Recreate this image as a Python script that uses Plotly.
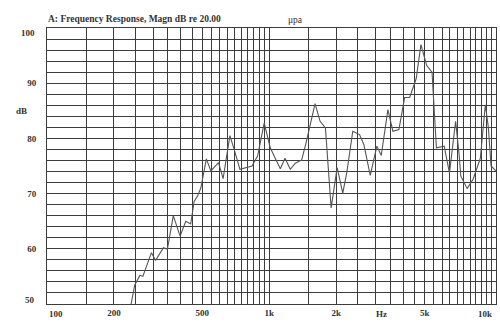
import plotly.graph_objects as go
import math

# Measured response (Hz, dB re 20 µPa)
freq_hz = [238, 248, 262, 270, 295, 308, 334, 348, 370, 397, 421, 443, 459, 475, 492,
           521, 546, 591, 620, 665, 695, 738, 836, 886, 949, 1010, 1121, 1177, 1243, 1310,
           1399, 1464, 1607, 1693, 1789, 1898, 2020, 2141, 2232, 2375, 2547, 2664, 2846,
           3048, 3190, 3417, 3599, 3830, 4064, 4280, 4579, 4813, 5108, 5397, 5648, 6125,
           6466, 6891, 7145, 7271, 7762, 8260, 8902, 9376, 9674, 9947, 10457]
magn_db = [49.6, 53.4, 55.2, 55.0, 59.3, 57.9, 60.2, 59.9, 66.0, 62.3, 65.0, 64.5, 68.6, 69.5, 71.0,
           76.3, 74.1, 75.6, 72.7, 80.5, 78.0, 74.4, 75.0, 76.8, 82.8, 78.3, 74.5, 76.4, 74.4, 75.5,
           76.1, 79.2, 86.3, 83.1, 81.9, 67.4, 74.7, 70.1, 73.8, 81.3, 80.7, 78.9, 73.3,
           78.6, 76.9, 85.2, 81.3, 81.6, 87.4, 87.4, 90.8, 97.0, 93.2, 92.0, 78.3, 78.6,
           73.7, 83.1, 77.1, 73.2, 70.9, 72.6, 76.4, 86.1, 82.0, 75.0, 74.1]

# Grid / tick definitions
x_grid = list(range(100, 1000, 50)) + list(range(1000, 10001, 500))
x_labels = {200: "200", 500: "500", 1000: "1k", 2000: "2k", 5000: "5k"}
y_grid = list(range(50, 101, 2))
y_labels = {60: "60", 70: "70", 80: "80", 90: "90"}

title_text = "A: Frequency Response, Magn dB re 20.00"
unit_text = "μpa"

FONT = "Liberation Serif"
TXT = "#333333"
GRID = "#3c3c3c"

fig = go.Figure()
fig.add_trace(go.Scatter(x=freq_hz, y=magn_db, mode="lines",
                         line=dict(color="#555555", width=1.1),
                         hoverinfo="skip", showlegend=False))

fig.update_xaxes(type="log", range=[2, 4.02], automargin=False,
                 tickvals=x_grid,
                 ticktext=[x_labels.get(v, "") for v in x_grid],
                 showgrid=True, gridcolor=GRID, gridwidth=1,
                 showline=True, linecolor=GRID, linewidth=1, mirror=True,
                 ticks="", zeroline=False,
                 tickfont=dict(family=FONT, size=9, color=TXT, weight="bold"))
fig.update_yaxes(range=[50, 100], automargin=False,
                 tickvals=y_grid,
                 ticktext=[y_labels.get(v, "") for v in y_grid],
                 showgrid=True, gridcolor=GRID, gridwidth=1,
                 showline=True, linecolor=GRID, linewidth=1, mirror=True,
                 ticks="", zeroline=False, ticklabelstandoff=8,
                 tickfont=dict(family=FONT, size=9, color=TXT, weight="bold"))

ann_font = dict(family=FONT, size=9, color=TXT, weight="bold")
annotations = [
    # edge tick labels
    dict(x=2, y=0, xref="x", yref="paper", text="100", showarrow=False,
         xanchor="left", yanchor="top", yshift=-3, font=ann_font),
    dict(x=4, y=0, xref="x", yref="paper", text="10k", showarrow=False,
         xanchor="right", yanchor="top", xshift=2, yshift=-3, font=ann_font),
    dict(x=math.log10(3200), y=0, xref="x", yref="paper", text="Hz", showarrow=False,
         xanchor="center", yanchor="top", yshift=-3, font=ann_font),
    dict(x=0, y=100, xref="paper", yref="y", text="100", showarrow=False,
         xanchor="right", yanchor="middle", xshift=-10, yshift=-4.5, font=ann_font),
    dict(x=0, y=50, xref="paper", yref="y", text="50", showarrow=False,
         xanchor="right", yanchor="middle", xshift=-10, yshift=4, font=ann_font),
    # axis unit
    dict(x=-0.056, y=85, xref="paper", yref="y", text="dB", showarrow=False,
         xanchor="center", yanchor="middle", font=ann_font),
    # header
    dict(x=-0.002, y=1.034, xref="paper", yref="paper", text=title_text, showarrow=False,
         xanchor="left", yanchor="middle", font=dict(family=FONT, size=9.5, color=TXT, weight="bold")),
    dict(x=0.533, y=1.03, xref="paper", yref="paper", text=unit_text, showarrow=False,
         xanchor="left", yanchor="middle", font=dict(family=FONT, size=9.5, color=TXT)),
]

fig.update_layout(width=500, height=336,
                  margin=dict(l=47, r=4, t=28, b=32),
                  paper_bgcolor="white", plot_bgcolor="white",
                  annotations=annotations, showlegend=False)

fig.write_html("out.html", config={"displayModeBar": False},
               post_script="document.body.style.margin='0';")
